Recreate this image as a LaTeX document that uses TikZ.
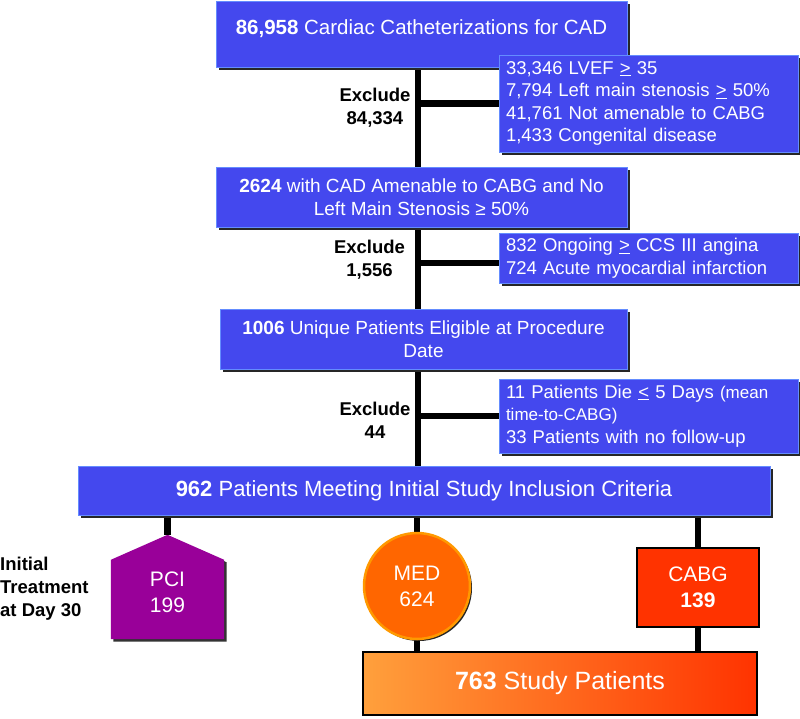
\documentclass[tikz,border=0pt]{standalone}
\usepackage{fontspec}
\setmainfont{Liberation Sans}
\usetikzlibrary{shadows,backgrounds,calc}
\definecolor{boxblue}{RGB}{68,72,238}
\definecolor{boxedge}{RGB}{100,140,255}
\definecolor{pcipurple}{RGB}{153,0,153}
\definecolor{medorange}{RGB}{255,102,0}
\definecolor{medring}{RGB}{255,153,0}
\definecolor{cabgred}{RGB}{255,51,0}
\definecolor{studyL}{RGB}{255,160,60}
\definecolor{studyR}{RGB}{255,51,0}
\newcommand\pcipent[2]{($(pci.south west)+(#1,#2)$) -- ($(pci.north west)+(#1,25+#2)$) -- ($(pci.north)+(#1,#2)$) -- ($(pci.north east)+(#1,25+#2)$) -- ($(pci.south east)+(#1,#2)$) -- cycle}
\tikzset{
  bluebox/.style={rectangle, fill=boxblue, draw=boxedge, line width=0.8pt, text=white, inner sep=0pt,
    drop shadow={shadow xshift=2.5pt, shadow yshift=-2.5pt, fill=black!85, opacity=1}},
  mainbox/.style={bluebox, align=center, font=\fontsize{19}{23.5}\selectfont},
  exbox/.style={bluebox, align=left, inner xsep=7pt, text width=285pt, font=\fontsize{18.5}{22.5}\selectfont},
  exlabel/.style={align=center, inner sep=0pt, font=\fontsize{18.5}{23}\selectfont\bfseries},
  treatfont/.style={text=white, align=center, inner sep=0pt, font=\fontsize{21}{26}\selectfont},
  conn/.style={line width=6.5pt, black},
}
\begin{document}
\begin{tikzpicture}[x=1pt,y=-1pt]
\useasboundingbox (0,0) rectangle (800,718);
% boxes
\node[mainbox, minimum width=411pt, minimum height=66pt, font=\fontsize{20.5}{24}\selectfont, text height=15pt, text depth=14pt] (b1) at (421.5,34) {\textbf{86,958} Cardiac Catheterizations for CAD};
\node[exbox, minimum height=97pt] (ex1) at (648.5,103.5) {33,346 LVEF \underline{>} 35\\7,794 Left main stenosis \underline{>} 50\%\\41,761 Not amenable to CABG\\1,433 Congenital disease};
\node[mainbox, minimum width=411pt, minimum height=60pt] (b2) at (421.5,197) {\textbf{2624} with CAD Amenable to CABG and No\\Left Main Stenosis ≥ 50\%};
\node[exbox, minimum height=50pt] (ex2) at (648.5,258) {832 Ongoing \underline{>} CCS III angina\\724 Acute myocardial infarction};
\node[mainbox, minimum width=407pt, minimum height=60pt] (b3) at (423.5,339) {\textbf{1006} Unique Patients Eligible at Procedure\\Date};
\node[exbox, minimum height=74pt] (ex3) at (648.5,416) {11 Patients Die \underline{<} 5 Days {\fontsize{17}{22.5}\selectfont(mean}\\{\fontsize{17}{22.5}\selectfont time-to-CABG)}\\33 Patients with no follow-up};
\node[mainbox, minimum width=692pt, minimum height=49pt, font=\fontsize{22}{25}\selectfont] (b4) at (424,490.5) {\textbf{962} Patients Meeting Initial Study Inclusion Criteria};
% labels
\node[exlabel] (l1) at (375,108) {Exclude\\84,334};
\node[exlabel] (l2) at (369.5,260) {Exclude\\1,556};
\node[exlabel] (l3) at (375,420) {Exclude\\44};
\node[exlabel, align=left, anchor=west] (init) at (0,589) {Initial\\Treatment\\at Day 30};
% treatments
\node[treatfont, minimum width=113pt, minimum height=104pt] (pci) at (167.5,587) {PCI\rule{0pt}{26pt}\\199};
\node[treatfont, circle, minimum size=106pt, fill=medorange, draw=medring, line width=2.5pt,
  drop shadow={shadow xshift=2pt, shadow yshift=-2pt, fill=black!85, opacity=1}] (med) at (417,586) {MED\\624};
\node[treatfont, rectangle, minimum width=122pt, minimum height=79pt, fill=cabgred, draw=black, line width=2.5pt] (cabg) at (698,587.5) {CABG\\\textbf{139}};
\node[rectangle, minimum width=394pt, minimum height=63pt, left color=studyL, right color=studyR, draw=black, line width=2.5pt, text=white, inner sep=0pt, font=\fontsize{25}{29}\selectfont] (study) at (560,683.5) {\textbf{763} Study Patients};
% background: shapes and connectors
\begin{scope}[on background layer]
  \fill[white] (0,0) rectangle (800,718);
  \fill[black!80] \pcipent{2.5}{2.5};
  \fill[pcipurple] \pcipent{0}{0};
  \coordinate (spine) at (418,0);
  \coordinate (br2) at ($(ex2.west)+(0,5)$);
  \draw[conn] (b1.south -| spine) -- (b2.north -| spine);
  \draw[conn] (b2.south -| spine) -- (b3.north -| spine);
  \draw[conn] (b3.south -| spine) -- (b4.north -| spine);
  \draw[conn] (ex1.west -| spine) -- (ex1.west);
  \draw[conn] (br2 -| spine) -- (br2);
  \draw[conn] (ex3.west -| spine) -- (ex3.west);
  \draw[conn] (b4.south -| pci.north) -- (pci.north);
  \draw[conn] (b4.south -| med.north) -- (med.north);
  \draw[conn] (med.south) -- (med.south |- study.north);
  \draw[conn] (b4.south -| cabg.north) -- (cabg.north);
  \draw[conn] (cabg.south) -- (cabg.south |- study.north);
\end{scope}
\end{tikzpicture}
\end{document}
